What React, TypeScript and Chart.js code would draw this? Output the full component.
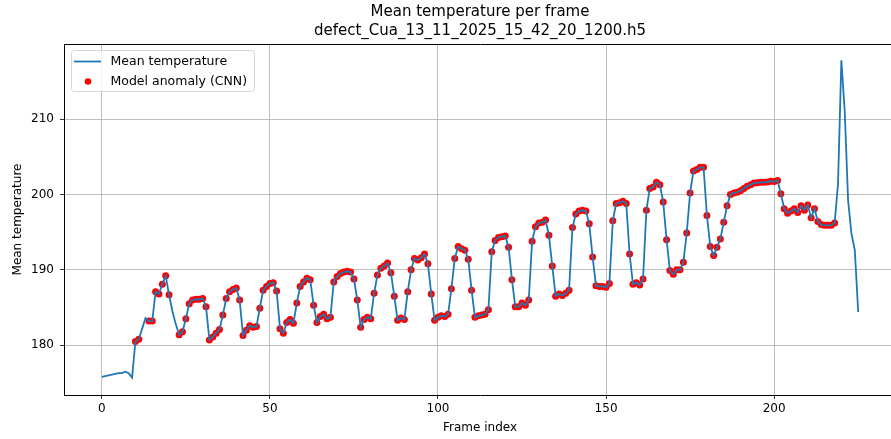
import React, { useEffect, useRef } from "react";
import { Chart, registerables } from "chart.js";

Chart.register(...registerables);

// Mean temperature for frames 0..225
const meanTemp: number[] = [
  175.8, 175.9, 176.0, 176.1, 176.2, 176.3, 176.3, 176.5, 176.3, 175.7,
  180.5, 180.8, 182.2, 183.6, 183.2, 183.2, 187.1, 186.8, 188.1, 189.2,
  186.7, 184.5, 182.8, 181.4, 181.8, 183.5, 185.5, 186.0, 186.1, 186.1,
  186.2, 185.1, 180.7, 181.1, 181.6, 182.1, 184.0, 186.2, 187.1, 187.4,
  187.6, 186.0, 181.3, 182.0, 182.6, 182.4, 182.5, 184.9, 187.3, 187.8,
  188.2, 188.3, 187.2, 182.2, 181.6, 183.0, 183.4, 182.9, 185.6, 187.8,
  188.4, 188.9, 188.7, 185.3, 183.0, 183.8, 184.1, 183.5, 183.7, 188.4,
  189.1, 189.5, 189.7, 189.8, 189.7, 188.8, 186.0, 182.4, 183.4, 183.7,
  183.5, 186.9, 189.3, 190.2, 190.5, 190.9, 189.6, 186.5, 183.3, 183.6,
  183.4, 187.1, 190.0, 191.5, 191.3, 191.6, 192.1, 190.8, 186.8, 183.3,
  183.7, 183.9, 183.8, 184.1, 187.5, 191.5, 193.1, 192.8, 192.6, 191.4,
  187.3, 183.7, 183.9, 184.0, 184.1, 184.7, 192.4, 193.9, 194.3, 194.4,
  194.5, 193.0, 188.7, 185.1, 185.1, 185.6, 185.3, 186.0, 193.8, 195.7,
  196.2, 196.3, 196.6, 194.6, 190.5, 186.5, 186.8, 186.6, 186.9, 187.3,
  195.6, 197.4, 197.8, 197.9, 197.8, 196.1, 191.7, 187.9, 187.8, 187.8,
  187.7, 188.2, 196.5, 198.8, 198.9, 199.1, 198.8, 192.1, 188.1, 188.3,
  188.0, 188.8, 197.9, 200.8, 201.0, 201.6, 201.3, 199.0, 194.0, 189.9,
  189.4, 190.0, 190.0, 191.0, 194.9, 200.2, 203.1, 203.3, 203.6, 203.6,
  197.2, 193.1, 191.9, 193.0, 194.1, 196.3, 198.5, 200.0, 200.2, 200.3,
  200.5, 200.8, 201.1, 201.3, 201.5, 201.55, 201.6, 201.6, 201.65, 201.75,
  201.7, 201.85, 200.1, 198.1, 197.5, 197.8, 198.1, 197.6, 198.5, 197.9,
  198.6, 196.9, 198.1, 196.4, 196.0, 195.9, 195.9, 195.9, 196.2, 201.4,
  217.8, 211.0, 199.2, 194.8, 192.6, 184.4,
];

// Frames flagged by the CNN model (inclusive ranges of frame indices)
const anomalyRanges: [number, number][] = [
  [10, 11],
  [14, 20],
  [23, 218],
];

const xTicks = [0, 50, 100, 150, 200];
const yTicks = [180, 190, 200, 210];

const titleLines = ["Mean temperature per frame", "defect_Cua_13_11_2025_15_42_20_1200.h5"];
const xLabel = "Frame index";
const yLabel = "Mean temperature";
const lineLabel = "Mean temperature";
const anomalyLabel = "Model anomaly (CNN)";

const LINE_COLOR = "#1f77b4";
const DOT_COLOR = "#ff0000";
const FONT = '"DejaVu Sans", sans-serif';

export default function App() {
  const ref = useRef<HTMLCanvasElement | null>(null);

  useEffect(() => {
    const canvas = ref.current;
    if (!canvas) return;

    const anomalyIdx: number[] = [];
    anomalyRanges.forEach(([a, b]) => {
      for (let i = a; i <= b; i++) anomalyIdx.push(i);
    });

    const decor = {
      id: "decor",
      afterDraw(chart: any) {
        const ctx = chart.ctx as CanvasRenderingContext2D;
        const ca = chart.chartArea;
        ctx.save();
        // top & right spines
        ctx.strokeStyle = "#000";
        ctx.lineWidth = 1;
        ctx.beginPath();
        ctx.moveTo(Math.round(ca.left) + 0.5, Math.round(ca.top) + 0.5);
        ctx.lineTo(Math.round(ca.right) + 0.5, Math.round(ca.top) + 0.5);
        ctx.lineTo(Math.round(ca.right) + 0.5, Math.round(ca.bottom) + 0.5);
        ctx.stroke();

        const cx = (ca.left + ca.right) / 2;
        ctx.fillStyle = "#000";
        ctx.textAlign = "center";
        ctx.textBaseline = "middle";
        ctx.font = `15px ${FONT}`;
        ctx.fillText(titleLines[0], cx, 12);
        ctx.fillText(titleLines[1], cx, 31);

        ctx.font = `12px ${FONT}`;
        ctx.fillText(xLabel, cx, 428);
        ctx.save();
        ctx.translate(18, (ca.top + ca.bottom) / 2);
        ctx.rotate(-Math.PI / 2);
        ctx.fillText(yLabel, 0, 0);
        ctx.restore();

        // legend
        const lx = ca.left + 7.5;
        const ly = ca.top + 6.5;
        const lw = 183;
        const lh = 41;
        ctx.beginPath();
        (ctx as any).roundRect(lx, ly, lw, lh, 3);
        ctx.fillStyle = "rgba(255,255,255,0.8)";
        ctx.fill();
        ctx.strokeStyle = "#d6d6d6";
        ctx.lineWidth = 1;
        ctx.stroke();

        ctx.strokeStyle = LINE_COLOR;
        ctx.lineWidth = 1.8;
        ctx.beginPath();
        ctx.moveTo(lx + 2.5, ly + 11);
        ctx.lineTo(lx + 29.5, ly + 11);
        ctx.stroke();

        ctx.fillStyle = DOT_COLOR;
        ctx.beginPath();
        ctx.arc(lx + 16.5, ly + 31, 3.3, 0, Math.PI * 2);
        ctx.fill();

        ctx.fillStyle = "#000";
        ctx.textAlign = "left";
        ctx.font = `12.5px ${FONT}`;
        ctx.fillText(lineLabel, lx + 39, ly + 11);
        ctx.fillText(anomalyLabel, lx + 39, ly + 31);
        ctx.restore();
      },
    };

    const chart = new Chart(canvas, {
      type: "line",
      data: {
        datasets: [
          {
            type: "line",
            label: lineLabel,
            data: meanTemp.map((y, i) => ({ x: i, y })),
            borderColor: LINE_COLOR,
            backgroundColor: LINE_COLOR,
            borderWidth: 1.8,
            pointRadius: 0,
            tension: 0,
            fill: false,
            order: 0,
          },
          {
            type: "scatter",
            label: anomalyLabel,
            data: anomalyIdx.map((i) => ({ x: i, y: meanTemp[i] })),
            backgroundColor: DOT_COLOR,
            borderColor: DOT_COLOR,
            borderWidth: 0,
            pointRadius: 3.5,
            order: 1,
          },
        ] as any,
      },
      options: {
        responsive: false,
        animation: false,
        devicePixelRatio: 1,
        layout: { padding: { top: 44, right: 2, left: 0, bottom: 0 } },
        plugins: {
          legend: { display: false },
          title: { display: false },
          tooltip: { enabled: false },
        },
        scales: {
          x: {
            type: "linear",
            min: -11.25,
            max: 236.25,
            afterBuildTicks: (s: any) => {
              s.ticks = xTicks.map((v) => ({ value: v }));
            },
            afterFit: (s: any) => {
              s.height = 44;
            },
            grid: {
              color: "#b0b0b0",
              lineWidth: 0.8,
              tickColor: "#000",
              tickLength: 4,
              drawTicks: true,
            },
            border: { color: "#000", width: 1 },
            ticks: {
              color: "#000",
              font: { family: FONT, size: 12 },
              padding: 3,
              maxRotation: 0,
              autoSkip: false,
            },
          },
          y: {
            type: "linear",
            min: 173.4,
            max: 219.95,
            afterBuildTicks: (s: any) => {
              s.ticks = yTicks.map((v) => ({ value: v }));
            },
            afterFit: (s: any) => {
              s.width = 64;
            },
            grid: {
              color: "#b0b0b0",
              lineWidth: 0.8,
              tickColor: "#000",
              tickLength: 4,
              drawTicks: true,
            },
            border: { color: "#000", width: 1 },
            ticks: {
              color: "#000",
              font: { family: FONT, size: 12 },
              padding: 6,
              autoSkip: false,
            },
          },
        },
      } as any,
      plugins: [decor],
    });

    return () => chart.destroy();
  }, []);

  return (
    <div
      style={{
        position: "fixed",
        left: 0,
        top: 0,
        width: 891,
        height: 439,
        overflow: "hidden",
        background: "#fff",
      }}
    >
      <canvas ref={ref} width={900} height={439} style={{ display: "block", width: 900, height: 439 }} />
    </div>
  );
}
